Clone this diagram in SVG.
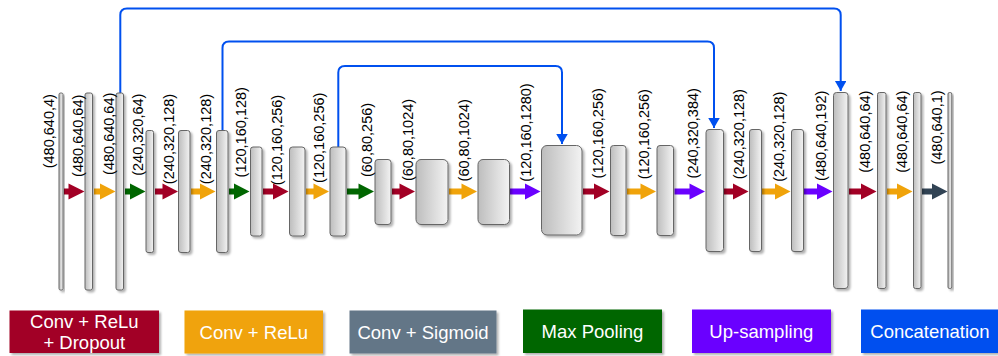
<svg xmlns="http://www.w3.org/2000/svg" width="998" height="356" viewBox="0 0 998 356">
<defs>
<linearGradient id="grey" x1="0" y1="0" x2="1" y2="0">
<stop offset="0" stop-color="#bdbdbd"/>
<stop offset="1" stop-color="#f3f3f3"/>
</linearGradient>
<filter id="sh" x="-50%" y="-10%" width="200%" height="130%">
<feDropShadow dx="2" dy="2" stdDeviation="0.8" flood-color="#000" flood-opacity="0.3"/>
</filter>
<marker id="ah" markerUnits="userSpaceOnUse" markerWidth="12" markerHeight="12" refX="10" refY="5.75" orient="auto">
<path d="M0,0 L10,5.75 L0,11.5 Z" fill="#0050ef"/>
</marker>
<style>
.blk{fill:url(#grey);stroke:#666;stroke-width:1;filter:url(#sh)}
.lbl{font-family:"Liberation Sans",Arial,sans-serif;font-size:14.5px;fill:#000;text-anchor:middle}
.leg{font-family:"Liberation Sans",Arial,sans-serif;font-size:18.5px;fill:#fff;text-anchor:middle}
.lbox{filter:url(#sh)}
.red{fill:#a20025}.org{fill:#f0a30a}.grn{fill:#006600}.pur{fill:#6a00ff}.sla{fill:#314354}
.con{fill:none;stroke:#0050ef;stroke-width:2;marker-end:url(#ah)}
</style>
</defs>
<rect width="998" height="356" fill="#fff"/>

<g id="connectors">
<path class="con" d="M120.3,93 V15 Q120.3,8.5 127,8.5 H834 Q840.7,8.5 840.7,15 V91"/>
<path class="con" d="M222.5,130 V48 Q222.5,41.5 229,41.5 H707.5 Q714,41.5 714,48 V128"/>
<path class="con" d="M338.3,147 V72.5 Q338.3,66 345,66 H555.5 Q562,66 562,72.5 V144"/>
<path class="red" d="M64,188.5 H68.5 V183.5 L84.5,191.5 L68.5,199.5 V194.5 H64 Z"/>
<path class="org" d="M94,188.5 H100 V183.5 L115.5,191.5 L100,199.5 V194.5 H94 Z"/>
<path class="grn" d="M125,188.5 H130 V183.5 L145.5,191.5 L130,199.5 V194.5 H125 Z"/>
<path class="red" d="M155,188.5 H162.5 V183.5 L178,191.5 L162.5,199.5 V194.5 H155 Z"/>
<path class="org" d="M191,188.5 H200 V183.5 L215.5,191.5 L200,199.5 V194.5 H191 Z"/>
<path class="grn" d="M229,188.5 H234 V183.5 L249.5,191.5 L234,199.5 V194.5 H229 Z"/>
<path class="red" d="M263,188.5 H273 V183.5 L288.5,191.5 L273,199.5 V194.5 H263 Z"/>
<path class="org" d="M306,188.5 H313.5 V183.5 L329,191.5 L313.5,199.5 V194.5 H306 Z"/>
<path class="grn" d="M347,188.5 H358.5 V183.5 L374,191.5 L358.5,199.5 V194.5 H347 Z"/>
<path class="red" d="M392,188.5 H399.5 V183.5 L415,191.5 L399.5,199.5 V194.5 H392 Z"/>
<path class="org" d="M449,188.5 H461.5 V183.5 L477,191.5 L461.5,199.5 V194.5 H449 Z"/>
<path class="pur" d="M510,188.5 H525 V183.5 L540.5,191.5 L525,199.5 V194.5 H510 Z"/>
<path class="red" d="M583,188.5 H594 V183.5 L609.5,191.5 L594,199.5 V194.5 H583 Z"/>
<path class="org" d="M627,188.5 H640.5 V183.5 L656,191.5 L640.5,199.5 V194.5 H627 Z"/>
<path class="pur" d="M674.5,188.5 H689.5 V183.5 L705,191.5 L689.5,199.5 V194.5 H674.5 Z"/>
<path class="red" d="M724,188.5 H733 V183.5 L748.5,191.5 L733,199.5 V194.5 H724 Z"/>
<path class="org" d="M762,188.5 H775 V183.5 L790.5,191.5 L775,199.5 V194.5 H762 Z"/>
<path class="pur" d="M804,188.5 H817 V183.5 L832.5,191.5 L817,199.5 V194.5 H804 Z"/>
<path class="red" d="M849,188.5 H861 V183.5 L876.5,191.5 L861,199.5 V194.5 H849 Z"/>
<path class="org" d="M887,188.5 H897 V183.5 L912.5,191.5 L897,199.5 V194.5 H887 Z"/>
<path class="sla" d="M922,188.5 H932 V183.5 L947.5,191.5 L932,199.5 V194.5 H922 Z"/>
</g>

<g id="b1"><rect class="blk" x="59" y="93" width="4" height="197" rx="1.5"/><text class="lbl" transform="translate(53.5,131.2) rotate(-90)">(480,640,4)</text></g>
<g id="b2"><rect class="blk" x="85" y="93" width="7.5" height="197" rx="2"/><text class="lbl" transform="translate(83,135.8) rotate(-90)">(480,640,64)</text></g>
<g id="b3"><rect class="blk" x="116" y="93" width="7.5" height="197" rx="2"/><text class="lbl" transform="translate(113.5,133.8) rotate(-90)">(480,640,64)</text></g>
<g id="b4"><rect class="blk" x="146" y="130.5" width="7.5" height="122" rx="2"/><text class="lbl" transform="translate(143,134.7) rotate(-90)">(240,320,64)</text></g>
<g id="b5"><rect class="blk" x="178.5" y="130.5" width="11.5" height="122" rx="2.5"/><text class="lbl" transform="translate(173.5,139) rotate(-90)">(240,320,128)</text></g>
<g id="b6"><rect class="blk" x="216.5" y="130.5" width="11.5" height="122" rx="2.5"/><text class="lbl" transform="translate(211,139) rotate(-90)">(240,320,128)</text></g>
<g id="b7"><rect class="blk" x="250.5" y="147" width="11.5" height="89" rx="2.5"/><text class="lbl" transform="translate(246,132.3) rotate(-90)">(120,160,128)</text></g>
<g id="b8"><rect class="blk" x="289.5" y="147" width="15.5" height="89" rx="3"/><text class="lbl" transform="translate(282,140) rotate(-90)">(120,160,256)</text></g>
<g id="b9"><rect class="blk" x="330" y="147" width="16" height="89" rx="3"/><text class="lbl" transform="translate(324,137.8) rotate(-90)">(120,160,256)</text></g>
<g id="b10"><rect class="blk" x="375" y="159.5" width="16" height="65" rx="3"/><text class="lbl" transform="translate(372,140) rotate(-90)">(60,80,256)</text></g>
<g id="b11"><rect class="blk" x="416" y="159.5" width="32" height="65" rx="5"/><text class="lbl" transform="translate(413,140) rotate(-90)">(60,80,1024)</text></g>
<g id="b12"><rect class="blk" x="478" y="159.5" width="31.5" height="65" rx="5"/><text class="lbl" transform="translate(468.5,140.3) rotate(-90)">(60,80,1024)</text></g>
<g id="b13"><rect class="blk" x="541.5" y="145.5" width="40.5" height="89.5" rx="5.5"/><text class="lbl" transform="translate(531,132.5) rotate(-90)">(120,160,1280)</text></g>
<g id="b14"><rect class="blk" x="610.5" y="145.5" width="15.5" height="90" rx="3"/><text class="lbl" transform="translate(602.5,133.3) rotate(-90)">(120,160,256)</text></g>
<g id="b15"><rect class="blk" x="657" y="145.5" width="16.5" height="90" rx="3"/><text class="lbl" transform="translate(649,134.2) rotate(-90)">(120,160,256)</text></g>
<g id="b16"><rect class="blk" x="706" y="129.5" width="17.5" height="122" rx="3"/><text class="lbl" transform="translate(697.5,133.3) rotate(-90)">(240,320,384)</text></g>
<g id="b17"><rect class="blk" x="749.5" y="129.5" width="12" height="122" rx="2.5"/><text class="lbl" transform="translate(743.5,134.2) rotate(-90)">(240,320,128)</text></g>
<g id="b18"><rect class="blk" x="791.5" y="129.5" width="12" height="122" rx="2.5"/><text class="lbl" transform="translate(783.5,136.7) rotate(-90)">(240,320,128)</text></g>
<g id="b19"><rect class="blk" x="833.5" y="92.5" width="14.5" height="196" rx="3"/><text class="lbl" transform="translate(826,135.8) rotate(-90)">(480,640,192)</text></g>
<g id="b20"><rect class="blk" x="877.5" y="92.5" width="8.5" height="196" rx="2"/><text class="lbl" transform="translate(869.5,131.7) rotate(-90)">(480,640,64)</text></g>
<g id="b21"><rect class="blk" x="913.5" y="92.5" width="7.5" height="196" rx="2"/><text class="lbl" transform="translate(906.5,131.7) rotate(-90)">(480,640,64)</text></g>
<g id="b22"><rect class="blk" x="948" y="92.5" width="3.8" height="196" rx="1.5"/><text class="lbl" transform="translate(942,127.5) rotate(-90)">(480,640,1)</text></g>

<g id="legend-dropout"><rect class="lbox red" x="9.5" y="310.5" width="149.5" height="42.5"/><text class="leg" x="84.3" y="328">Conv + ReLu</text><text class="leg" x="84.3" y="349">+ Dropout</text></g>
<g id="legend-relu"><rect class="lbox org" x="184.5" y="310.5" width="138.5" height="43"/><text class="leg" x="253.8" y="338.5">Conv + ReLu</text></g>
<g id="legend-sigmoid"><rect class="lbox sla" x="349.5" y="310.5" width="147" height="43" style="fill:#647687"/><text class="leg" x="423" y="338.5">Conv + Sigmoid</text></g>
<g id="legend-pool"><rect class="lbox grn" x="523" y="309.5" width="139" height="43.5"/><text class="leg" x="592.5" y="337.5">Max Pooling</text></g>
<g id="legend-up"><rect class="lbox pur" x="692" y="309.5" width="139" height="43.5"/><text class="leg" x="761.3" y="337.5">Up-sampling</text></g>
<g id="legend-concat"><rect class="lbox" x="861" y="309.5" width="140" height="43.5" fill="#0050ef"/><text class="leg" x="930" y="337.5">Concatenation</text></g>
</svg>
